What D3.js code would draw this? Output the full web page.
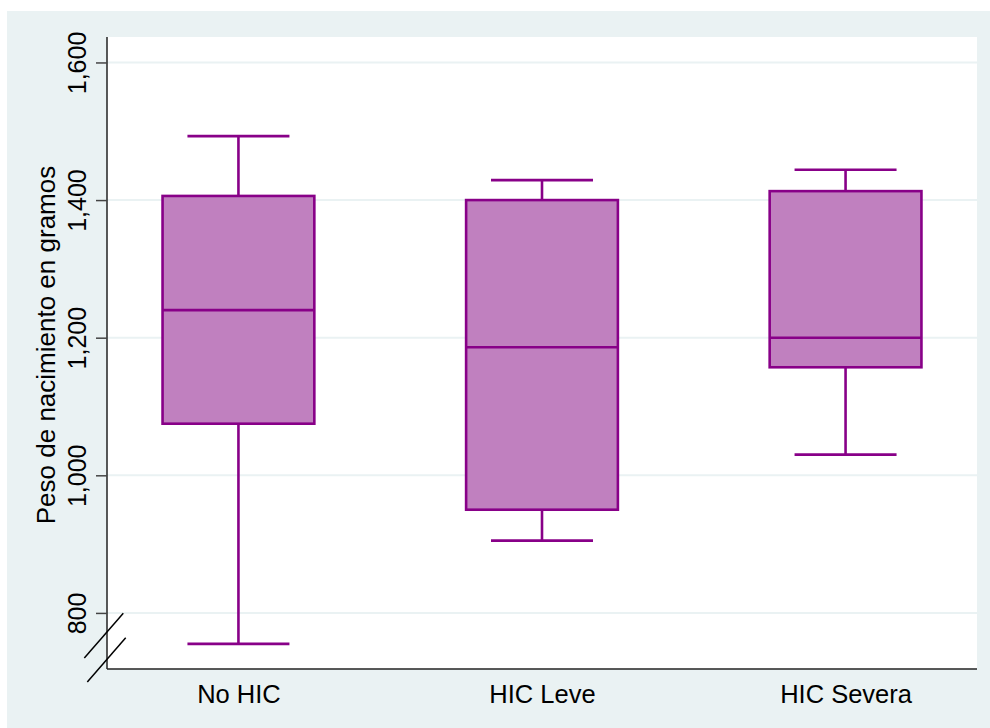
<!DOCTYPE html>
<html>
<head>
<meta charset="utf-8">
<script src="https://cdn.jsdelivr.net/npm/d3@7/dist/d3.min.js"></script>
<style>
  html, body { margin: 0; padding: 0; background: #ffffff; }
  svg { display: block; }
  text { font-family: "Liberation Sans", Arial, sans-serif; fill: #000; }
</style>
</head>
<body>
<svg id="chart" width="990" height="728"></svg>
<script>
// Birth weight (grams) by intracranial haemorrhage group
const categories = ["No HIC", "HIC Leve", "HIC Severa"];
const whiskerLow  = [755, 905, 1030];
const quartile1   = [1075, 950, 1157];
const medians     = [1240, 1186, 1200];
const quartile3   = [1406, 1400, 1413];
const whiskerHigh = [1493, 1429, 1444];
const yTicks = [800, 1000, 1200, 1400, 1600];
const yTitle = "Peso de nacimiento en gramos";

const W = 990, H = 728;
const plot = { left: 107, right: 977, top: 37, bottom: 669 };

const svg = d3.select("#chart");

// outer panel
svg.append("rect").attr("x", 7).attr("y", 11)
  .attr("width", W - 7).attr("height", H - 11).attr("fill", "#eaf2f3");
// plot region
svg.append("rect").attr("x", plot.left).attr("y", plot.top)
  .attr("width", plot.right - plot.left).attr("height", plot.bottom - plot.top)
  .attr("fill", "#ffffff");

const y = d3.scaleLinear().domain([718.5, 1637]).range([plot.bottom, plot.top]);
const x = d3.scalePoint().domain(categories).range([plot.left, plot.right]).padding(0.433);
const step = x.step();
const boxW = step * 0.5;
const capW = step * 0.336;

// horizontal grid
svg.append("g").selectAll("line").data(yTicks).join("line")
  .attr("x1", plot.left).attr("x2", plot.right)
  .attr("y1", d => y(d)).attr("y2", d => y(d))
  .attr("stroke", "#eaf2f3").attr("stroke-width", 2);

const fill = "#c080bf", stroke = "#880088", sw = 2.6;
const rows = categories.map((c, i) => ({
  c, lo: whiskerLow[i], q1: quartile1[i], med: medians[i], q3: quartile3[i], hi: whiskerHigh[i]
}));

const g = svg.append("g").selectAll("g").data(rows).join("g");
// whisker stems
g.append("line").attr("x1", d => x(d.c)).attr("x2", d => x(d.c))
  .attr("y1", d => y(d.hi)).attr("y2", d => y(d.q3))
  .attr("stroke", stroke).attr("stroke-width", sw);
g.append("line").attr("x1", d => x(d.c)).attr("x2", d => x(d.c))
  .attr("y1", d => y(d.q1)).attr("y2", d => y(d.lo))
  .attr("stroke", stroke).attr("stroke-width", sw);
// caps
g.append("line").attr("x1", d => x(d.c) - capW / 2).attr("x2", d => x(d.c) + capW / 2)
  .attr("y1", d => y(d.hi)).attr("y2", d => y(d.hi))
  .attr("stroke", stroke).attr("stroke-width", sw);
g.append("line").attr("x1", d => x(d.c) - capW / 2).attr("x2", d => x(d.c) + capW / 2)
  .attr("y1", d => y(d.lo)).attr("y2", d => y(d.lo))
  .attr("stroke", stroke).attr("stroke-width", sw);
// boxes
g.append("rect").attr("x", d => x(d.c) - boxW / 2).attr("width", boxW)
  .attr("y", d => y(d.q3)).attr("height", d => y(d.q1) - y(d.q3))
  .attr("fill", fill).attr("stroke", stroke).attr("stroke-width", sw);
// medians
g.append("line").attr("x1", d => x(d.c) - boxW / 2).attr("x2", d => x(d.c) + boxW / 2)
  .attr("y1", d => y(d.med)).attr("y2", d => y(d.med))
  .attr("stroke", stroke).attr("stroke-width", sw);

// y axis
const yAxis = d3.axisLeft(y).tickValues(yTicks).tickSize(11).tickPadding(10)
  .tickFormat(d3.format(","));
const ya = svg.append("g").attr("transform", `translate(${plot.left},0)`).call(yAxis);
ya.select(".domain").attr("stroke", "#222").attr("stroke-width", 1.5)
  .attr("d", `M0,${plot.bottom}V${plot.top}`);
ya.selectAll(".tick line").attr("stroke", "#444").attr("stroke-width", 1.5);
ya.selectAll(".tick text")
  .attr("font-size", 25).attr("fill", "#000")
  .attr("text-anchor", "middle").attr("dy", null)
  .attr("x", null)
  .attr("transform", "translate(-21,0) rotate(-90)");

// x axis
const xAxis = d3.axisBottom(x).tickSize(0).tickPadding(16);
const xa = svg.append("g").attr("transform", `translate(0,${plot.bottom})`).call(xAxis);
xa.select(".domain").attr("stroke", "#222").attr("stroke-width", 1.5)
  .attr("d", `M${plot.left},0H${plot.right}`);
xa.selectAll(".tick text").attr("font-size", 25.5).attr("fill", "#000");

// axis break marks
const breaks = [[84.3, 658, 123.3, 613.3], [87.3, 682, 125.7, 637.7]];
svg.append("g").selectAll("line").data(breaks).join("line")
  .attr("x1", d => d[0]).attr("y1", d => d[1]).attr("x2", d => d[2]).attr("y2", d => d[3])
  .attr("stroke", "#000").attr("stroke-width", 1.5);

// y title
svg.append("text").attr("transform", "translate(55,345) rotate(-90)")
  .attr("text-anchor", "middle").attr("font-size", 26).text(yTitle);
</script>
</body>
</html>
